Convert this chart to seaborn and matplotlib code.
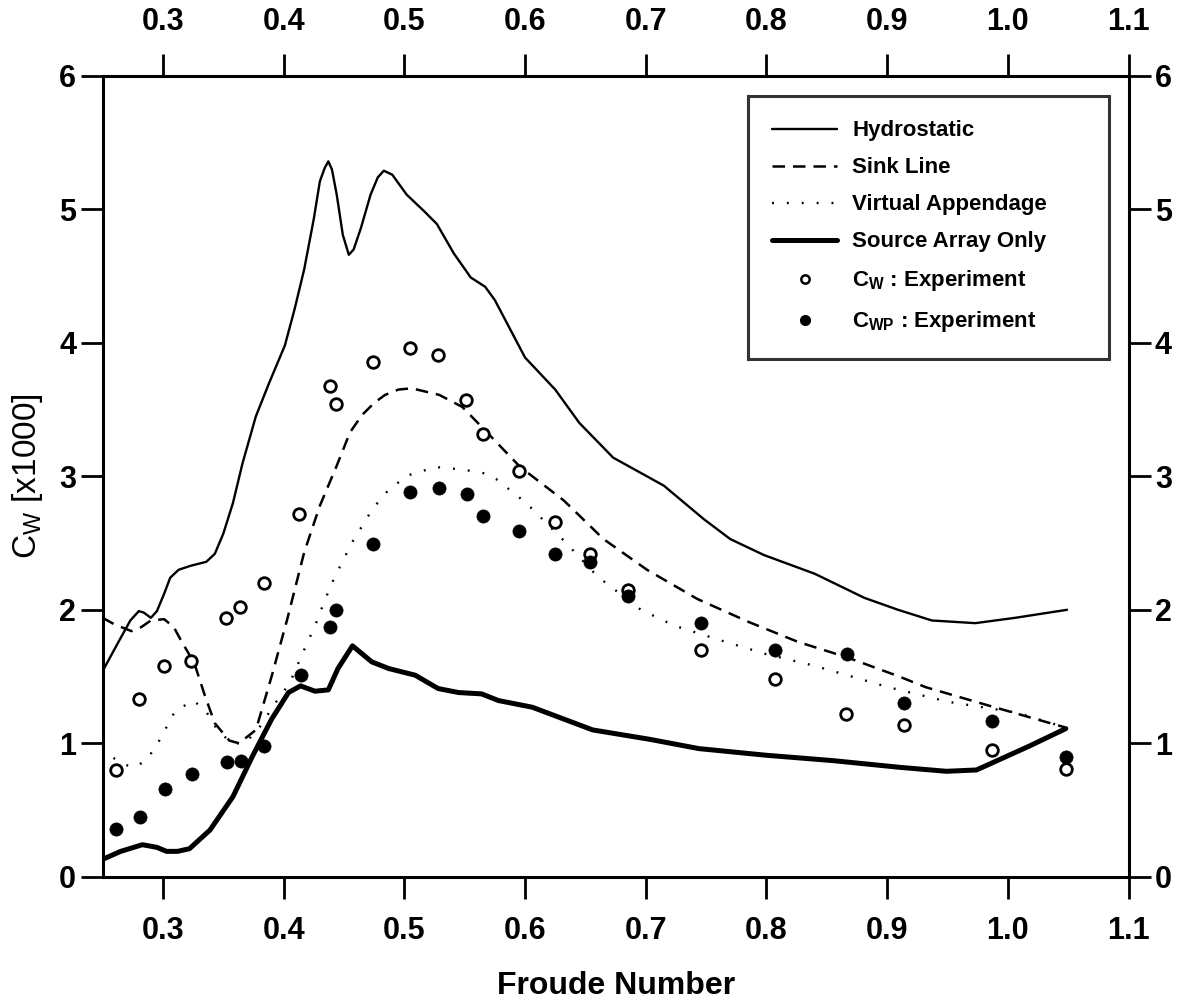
import matplotlib
matplotlib.use("Agg")
import matplotlib.pyplot as plt
from matplotlib.lines import Line2D
import seaborn as sns

# Wave resistance coefficient Cw (x1000) against Froude number
fr_hydro = [0.250, 0.262, 0.273, 0.280, 0.284, 0.290, 0.295, 0.301, 0.306, 0.313,
            0.323, 0.336, 0.343, 0.350, 0.358, 0.366, 0.377, 0.388, 0.401, 0.409,
            0.417, 0.425, 0.430, 0.434, 0.437, 0.440, 0.444, 0.449, 0.454, 0.458,
            0.464, 0.472, 0.478, 0.483, 0.490, 0.502, 0.516, 0.527, 0.541, 0.555,
            0.567, 0.575, 0.600, 0.625, 0.645, 0.673, 0.715, 0.748, 0.770, 0.798,
            0.840, 0.881, 0.909, 0.937, 0.973, 1.006, 1.049]
cw_hydro = [1.54, 1.74, 1.92, 1.99, 1.98, 1.94, 1.99, 2.12, 2.24, 2.30,
            2.33, 2.36, 2.42, 2.57, 2.80, 3.10, 3.45, 3.70, 3.98, 4.25,
            4.55, 4.93, 5.21, 5.31, 5.36, 5.30, 5.11, 4.81, 4.66, 4.70,
            4.86, 5.11, 5.24, 5.29, 5.26, 5.11, 4.99, 4.89, 4.67, 4.49,
            4.42, 4.32, 3.89, 3.65, 3.40, 3.14, 2.93, 2.68, 2.53, 2.41,
            2.27, 2.09, 2.00, 1.92, 1.90, 1.94, 2.00]

fr_sink = [0.250, 0.260, 0.274, 0.282, 0.290, 0.301, 0.309, 0.315, 0.326, 0.335,
           0.343, 0.355, 0.363, 0.377, 0.390, 0.403, 0.417, 0.430, 0.444, 0.455,
           0.465, 0.475, 0.484, 0.495, 0.506, 0.529, 0.548, 0.562, 0.596, 0.632,
           0.665, 0.701, 0.743, 0.785, 0.826, 0.868, 0.910, 0.932, 0.985, 1.047]
cw_sink = [1.94, 1.89, 1.84, 1.87, 1.92, 1.93, 1.87, 1.77, 1.60, 1.35,
           1.15, 1.02, 1.00, 1.10, 1.50, 1.93, 2.43, 2.78, 3.08, 3.33,
           3.46, 3.55, 3.61, 3.65, 3.66, 3.61, 3.52, 3.39, 3.07, 2.82,
           2.53, 2.30, 2.08, 1.91, 1.76, 1.64, 1.50, 1.42, 1.28, 1.12]

fr_virtual = [0.259, 0.268, 0.277, 0.287, 0.297, 0.310, 0.325, 0.335, 0.345, 0.357,
              0.368, 0.380, 0.393, 0.405, 0.417, 0.426, 0.434, 0.442, 0.457, 0.474,
              0.488, 0.504, 0.526, 0.549, 0.568, 0.576, 0.601, 0.632, 0.660, 0.696,
              0.724, 0.766, 0.799, 0.840, 0.882, 0.901, 0.951, 1.007, 1.047]
cw_virtual = [0.89, 0.84, 0.82, 0.88, 1.02, 1.24, 1.32, 1.25, 1.10, 1.00,
              1.00, 1.12, 1.30, 1.45, 1.70, 1.88, 2.07, 2.24, 2.51, 2.76,
              2.91, 3.01, 3.07, 3.05, 3.02, 2.98, 2.80, 2.52, 2.25, 2.00,
              1.88, 1.76, 1.67, 1.58, 1.47, 1.42, 1.31, 1.23, 1.12]

fr_source = [0.250, 0.265, 0.283, 0.295, 0.303, 0.312, 0.322, 0.339, 0.358, 0.374,
             0.390, 0.404, 0.414, 0.426, 0.437, 0.445, 0.457, 0.473, 0.487, 0.509,
             0.528, 0.545, 0.564, 0.578, 0.606, 0.656, 0.703, 0.744, 0.800, 0.855,
             0.910, 0.949, 0.974, 0.996, 1.018, 1.048]
cw_source = [0.13, 0.19, 0.24, 0.22, 0.19, 0.19, 0.21, 0.35, 0.60, 0.90,
             1.18, 1.38, 1.43, 1.39, 1.40, 1.56, 1.73, 1.61, 1.56, 1.51,
             1.41, 1.38, 1.37, 1.32, 1.27, 1.10, 1.03, 0.96, 0.91, 0.87,
             0.82, 0.79, 0.80, 0.89, 0.98, 1.11]

fr_cw_exp = [0.261, 0.280, 0.301, 0.323, 0.352, 0.364, 0.384, 0.413, 0.438, 0.443,
             0.474, 0.505, 0.528, 0.551, 0.565, 0.595, 0.625, 0.654, 0.685, 0.746,
             0.807, 0.866, 0.914, 0.987, 1.048]
cw_exp = [0.80, 1.33, 1.58, 1.62, 1.94, 2.02, 2.20, 2.72, 3.68, 3.54,
          3.86, 3.96, 3.91, 3.57, 3.32, 3.04, 2.66, 2.42, 2.15, 1.70,
          1.48, 1.22, 1.14, 0.95, 0.81]

fr_cwp_exp = [0.261, 0.281, 0.302, 0.324, 0.353, 0.365, 0.384, 0.414, 0.438, 0.443,
              0.474, 0.505, 0.529, 0.552, 0.565, 0.595, 0.625, 0.654, 0.685, 0.746,
              0.807, 0.867, 0.914, 0.987, 1.048]
cwp_exp = [0.36, 0.45, 0.66, 0.77, 0.86, 0.87, 0.98, 1.51, 1.87, 2.00,
           2.49, 2.88, 2.91, 2.87, 2.70, 2.59, 2.42, 2.36, 2.10, 1.90,
           1.70, 1.67, 1.30, 1.17, 0.90]

x_ticks = [0.3, 0.4, 0.5, 0.6, 0.7, 0.8, 0.9, 1.0, 1.1]
y_ticks = [0, 1, 2, 3, 4, 5, 6]

sns.set_theme(style="ticks")
plt.rcParams["font.family"] = ["Liberation Sans", "DejaVu Sans"]
plt.rcParams["font.weight"] = "bold"
plt.rcParams["mathtext.default"] = "regular"
plt.rcParams["text.color"] = "black"
plt.rcParams["axes.labelcolor"] = "black"

fig = plt.figure(figsize=(11.9, 10.06), dpi=100)
ax = fig.add_axes([0.0862, 0.1285, 0.8622, 0.796])

dash_style = (0, (5.0, 3.2))
dot_style = (0, (0.8, 5.5))

sns.lineplot(x=fr_hydro, y=cw_hydro, ax=ax, color="black", linewidth=1.7,
             sort=False, estimator=None)
sns.lineplot(x=fr_sink, y=cw_sink, ax=ax, color="black", linewidth=1.8,
             linestyle=dash_style, sort=False, estimator=None)
sns.lineplot(x=fr_virtual, y=cw_virtual, ax=ax, color="black", linewidth=1.7,
             linestyle=dot_style, sort=False, estimator=None)
sns.lineplot(x=fr_source, y=cw_source, ax=ax, color="black", linewidth=3.6,
             sort=False, estimator=None)

sns.scatterplot(x=fr_cw_exp, y=cw_exp, ax=ax, marker="o", s=70,
                facecolor="white", edgecolor="black", linewidth=2.0, zorder=4)
sns.scatterplot(x=fr_cwp_exp, y=cwp_exp, ax=ax, marker="o", s=90,
                color="black", edgecolor="black", linewidth=0.5, zorder=5)

ax.set_xlim(0.25, 1.1)
ax.set_ylim(0, 6)
ax.set_xticks(x_ticks)
ax.set_xticklabels([f"{v:.1f}" for v in x_ticks], fontweight="bold")
ax.set_yticks(y_ticks)
ax.set_yticklabels([str(v) for v in y_ticks], fontweight="bold")

for side in ["left", "right", "top", "bottom"]:
    ax.spines[side].set_visible(True)
    ax.spines[side].set_linewidth(2.2)
    ax.spines[side].set_color("black")

ax.tick_params(axis="both", which="major", direction="out", length=16, width=2.0,
               colors="black", labelsize=22)
ax.tick_params(axis="x", top=True, labeltop=True, bottom=True, labelbottom=True, pad=12)
ax.tick_params(axis="y", left=True, right=True, labelleft=True, labelright=True, pad=3)
for lab in ax.get_xticklabels(which="both") + ax.get_yticklabels(which="both"):
    lab.set_fontweight("bold")

ax.set_xlabel("Froude Number", fontsize=23, fontweight="bold", labelpad=18)
ax.set_ylabel(r"C$_{W}$ [x1000]", fontsize=24, fontweight="normal", labelpad=10)

handles = [
    Line2D([], [], color="black", linewidth=1.7),
    Line2D([], [], color="black", linewidth=1.8, linestyle=dash_style),
    Line2D([], [], color="black", linewidth=1.7, linestyle=dot_style),
    Line2D([], [], color="black", linewidth=3.6),
    Line2D([], [], color="black", linestyle="none", marker="o", markersize=6,
           markerfacecolor="white", markeredgecolor="black", markeredgewidth=1.8),
    Line2D([], [], color="black", linestyle="none", marker="o", markersize=7,
           markerfacecolor="black", markeredgecolor="black"),
]
labels = ["Hydrostatic", "Sink Line", "Virtual Appendage", "Source Array Only",
          r"C$_{W}$ : Experiment", r"C$_{WP}$ : Experiment"]
leg = ax.legend(handles, labels, loc="upper left",
                bbox_to_anchor=(0.629, 0.655, 0.352, 0.32), mode="expand",
                borderaxespad=0, frameon=True, fancybox=False,
                prop={"size": 16, "weight": "bold"},
                handlelength=2.9, handletextpad=0.7, labelspacing=0.72,
                borderpad=1.1)
leg.get_frame().set_edgecolor("black")
leg.get_frame().set_linewidth(2.2)
leg.get_frame().set_facecolor("white")

fig.savefig("out.png", dpi=100, facecolor="white")
